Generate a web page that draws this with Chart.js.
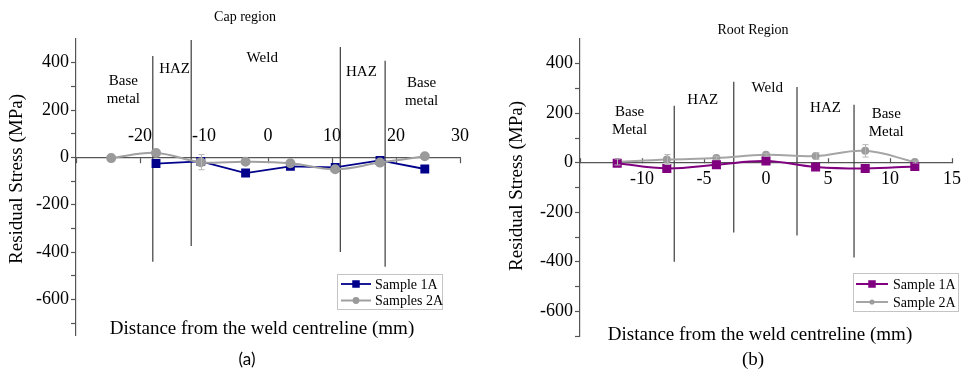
<!DOCTYPE html>
<html><head><meta charset="utf-8">
<script src="https://cdn.jsdelivr.net/npm/chart.js@4.4.0/dist/chart.umd.min.js"></script>
<style>
html,body{margin:0;padding:0;background:#fff;}
#wrap{position:relative;width:972px;height:370px;overflow:hidden;}
.box{position:absolute;top:0;width:486px;height:370px;}
canvas{display:block;}
</style></head><body>
<div id="wrap">
<div class="box" style="left:0"><canvas id="capChart" width="486" height="370"></canvas></div>
<div class="box" style="left:486px"><canvas id="rootChart" width="486" height="370"></canvas></div>
</div>
<script>
// ---------- Panel (a): Cap region ----------
const capDist1 = [-17.5, -10.5, -3.5, 3.5, 10.5, 17.5, 24.5];
const capStress1 = [-26, -17, -66, -38, -42, -13, -49];
const capDist2 = [-24.5, -17.5, -10.5, -3.5, 3.5, 10.5, 17.5, 24.5];
const capStress2 = [-3, 19, -20, -18, -25, -50, -22, 5];
const capErr2 = [0, 0, 32, 0, 0, 0, 0, 0];
const capBoundX = [-18, -12, 11.3, 18.3];
const capBoundTop = [428, 496, 466, 408];
const capBoundBottom = [-441, -374, -399, -462];
const capRegionText = [['Base', 'metal'], ['HAZ'], ['Weld'], ['HAZ'], ['Base', 'metal']];
const capRegionX = [-22.6, -14.6, -0.9, 14.6, 24];
const capRegionY = [286, 374, 420, 361, 277];
const capXTicks = [-30, -20, -10, 0, 10, 20, 30];
const capXLabels = [-20, -10, 0, 10, 20, 30];
const capYTicks = [-700, -600, -500, -400, -300, -200, -100, 0, 100, 200, 300, 400];
const capYLabels = [-600, -400, -200, 0, 200, 400];

// ---------- Panel (b): Root region ----------
const rootDist = [-12, -8, -4, 0, 4, 8, 12];
const rootStress1 = [-2, -23, -8, 7, -17, -23, -15];
const rootStress2 = [3, 13, 19, 32, 27, 48, 3];
const rootErr2 = [12, 20, 6, 6, 13, 25, 4];
const rootBoundX = [-7.4, -2.6, 2.5, 7.1];
const rootBoundTop = [230, 327, 306, 234];
const rootBoundBottom = [-400, -282, -294, -383];
const rootRegionText = [['Base', 'Metal'], ['HAZ'], ['Weld'], ['HAZ'], ['Base', 'Metal']];
const rootRegionX = [-11.0, -5.1, 0.1, 4.8, 9.7];
const rootRegionY = [169, 254, 302, 222, 161];
const rootXTicks = [-15, -10, -5, 0, 5, 10, 15];
const rootXLabels = [-10, -5, 0, 5, 10, 15];
const rootYTicks = [-700, -600, -500, -400, -300, -200, -100, 0, 100, 200, 300, 400];
const rootYLabels = [-600, -400, -200, 0, 200, 400];

const SERIF = 'Liberation Serif';
Chart.defaults.font.family = SERIF;

function boundaryDatasets(xs, tops, bottoms) {
  return xs.map((x, i) => ({
    data: [{x: x, y: tops[i]}, {x: x, y: bottoms[i]}],
    borderColor: '#3c3c3c', borderWidth: 1.2, pointRadius: 0, tension: 0, order: 5
  }));
}
function pts(xs, ys) { return xs.map((x, i) => ({x: x, y: ys[i]})); }

function annotPlugin(p) {
  return {
    id: 'annot',
    afterDatasetsDraw(chart) {
      const ctx = chart.ctx, xs = chart.scales.x, ys = chart.scales.y;
      ctx.save();
      ctx.strokeStyle = '#b5b5b5'; ctx.lineWidth = 1;
      p.errors.forEach(e => {
        e.x.forEach((xv, i) => {
          const d = e.err[i]; if (!d) return;
          const px = Math.round(xs.getPixelForValue(xv)) + 0.5;
          const a = ys.getPixelForValue(e.y[i] + d), b = ys.getPixelForValue(e.y[i] - d);
          ctx.beginPath();
          ctx.moveTo(px, a); ctx.lineTo(px, b);
          ctx.moveTo(px - 3, a); ctx.lineTo(px + 3, a);
          ctx.moveTo(px - 3, b); ctx.lineTo(px + 3, b);
          ctx.stroke();
        });
      });
      ctx.restore();
    },
    afterDraw(chart) {
      const ctx = chart.ctx, xs = chart.scales.x, ys = chart.scales.y;
      ctx.save();
      ctx.fillStyle = '#000'; ctx.textAlign = 'center'; ctx.textBaseline = 'middle';
      ctx.font = '15px "' + SERIF + '"';
      p.regionText.forEach((lines, i) => {
        const cx = xs.getPixelForValue(p.regionX[i]);
        const cy = ys.getPixelForValue(p.regionY[i]);
        lines.forEach((t, j) => ctx.fillText(t, cx, cy + (j - (lines.length - 1) / 2) * 18));
      });
      p.texts.forEach(t => {
        ctx.save();
        ctx.font = t.font; ctx.fillStyle = '#000';
        ctx.translate(t.x, t.y);
        if (t.rot) ctx.rotate(t.rot);
        ctx.fillText(t.text, 0, 0);
        ctx.restore();
      });
      const L = p.legend;
      const items = chart.data.datasets.filter(d => d.label);
      ctx.strokeStyle = '#c4c4c4'; ctx.lineWidth = 1;
      ctx.strokeRect(L.x + 0.5, L.y + 0.5, L.w, L.h);
      ctx.textAlign = 'left';
      ctx.font = '14px "' + SERIF + '"';
      items.forEach((d, i) => {
        const cy = L.y + L.first + i * L.rowH;
        ctx.strokeStyle = d.borderColor; ctx.lineWidth = d.borderWidth;
        ctx.beginPath(); ctx.moveTo(L.lx1, cy); ctx.lineTo(L.lx2, cy); ctx.stroke();
        const mx = (L.lx1 + L.lx2) / 2;
        ctx.fillStyle = d.pointBackgroundColor;
        if (d.pointStyle === 'rect') {
          const s = d.pointRadius * 0.75;
          ctx.fillRect(mx - s, cy - s, 2 * s, 2 * s);
        } else {
          ctx.beginPath(); ctx.arc(mx, cy, d.pointRadius * 0.85, 0, Math.PI * 2); ctx.fill();
        }
        ctx.fillStyle = '#000';
        ctx.fillText(d.label, L.tx, cy + 1);
      });
      ctx.restore();
    }
  };
}

function makeChart(id, p) {
  return new Chart(document.getElementById(id), {
    type: 'line',
    data: { datasets: p.datasets },
    options: {
      responsive: false, animation: false, devicePixelRatio: 1, events: [],
      layout: { padding: p.padding },
      plugins: { legend: { display: false }, tooltip: { enabled: false }, title: { display: false } },
      scales: {
        x: {
          type: 'linear', min: p.xMin, max: p.xMax, position: { y: 0 },
          afterBuildTicks: s => { s.ticks = p.xTicks.map(v => ({value: v})); },
          ticks: {
            callback: v => p.xLabels.includes(v) ? String(v) : '',
            font: { family: SERIF, size: 18 }, color: '#000',
            padding: p.xPad, maxRotation: 0, autoSkip: false
          },
          grid: { drawOnChartArea: false, drawTicks: true, tickLength: p.xTickLen, color: '#555', tickWidth: 1.2 },
          border: { display: true, color: '#555', width: 1.2 }
        },
        y: {
          type: 'linear', min: p.yMin, max: p.yMax, position: 'left',
          afterFit: s => { s.width = p.yWidth; },
          afterBuildTicks: s => { s.ticks = p.yTicks.map(v => ({value: v})); },
          ticks: {
            callback: v => p.yLabels.includes(v) ? String(v) : '',
            font: { family: SERIF, size: 18 }, color: '#000', padding: 2, autoSkip: false
          },
          grid: { drawOnChartArea: false, drawTicks: true, tickLength: 5, color: '#555', tickWidth: 1.2 },
          border: { display: true, color: '#555', width: 1.2 }
        }
      }
    },
    plugins: [annotPlugin(p)]
  });
}

const F = s => s + 'px "' + SERIF + '"';

makeChart('capChart', {
  datasets: [
    ...boundaryDatasets(capBoundX, capBoundTop, capBoundBottom),
    { label: 'Sample 1A', data: pts(capDist1, capStress1), borderColor: '#00008b', backgroundColor: '#00008b',
      pointBackgroundColor: '#00008b', pointBorderColor: '#00008b', borderWidth: 1.8, pointStyle: 'rect', pointRadius: 5, tension: 0, order: 2 },
    { label: 'Samples 2A', data: pts(capDist2, capStress2), borderColor: '#a0a0a0', backgroundColor: '#9a9a9a',
      pointBackgroundColor: '#9a9a9a', pointBorderColor: '#9a9a9a', borderWidth: 2, pointStyle: 'circle', pointRadius: 4, tension: 0.4, order: 1 }
  ],
  errors: [{ x: capDist2, y: capStress2, err: capErr2 }],
  regionText: capRegionText, regionX: capRegionX, regionY: capRegionY,
  padding: { top: 39, bottom: 35, right: 26, left: 0 },
  xMin: -30, xMax: 30, xTicks: capXTicks, xLabels: capXLabels, xPad: -37, xTickLen: 5,
  yMin: -750, yMax: 500, yTicks: capYTicks, yLabels: capYLabels, yWidth: 76,
  legend: { x: 337, y: 274, w: 105, h: 35, first: 10, rowH: 16.5, lx1: 341, lx2: 371, tx: 375 },
  texts: [
    { text: 'Cap region', x: 245, y: 17, font: F(14) },
    { text: 'Distance from the weld centreline (mm)', x: 262, y: 329, font: F(19) },
    { text: '(a)', x: 247, y: 360, font: '17px Lato, "Open Sans", sans-serif' },
    { text: 'Residual Stress (MPa)', x: 17, y: 179, rot: -Math.PI / 2, font: F(19) }
  ]
});

makeChart('rootChart', {
  datasets: [
    ...boundaryDatasets(rootBoundX, rootBoundTop, rootBoundBottom),
    { label: 'Sample 1A', data: pts(rootDist, rootStress1), borderColor: '#800080', backgroundColor: '#800080',
      pointBackgroundColor: '#800080', pointBorderColor: '#800080', borderWidth: 2, pointStyle: 'rect', pointRadius: 5, tension: 0.4, order: 1 },
    { label: 'Sample 2A', data: pts(rootDist, rootStress2), borderColor: '#a5a5a5', backgroundColor: '#9c9c9c',
      pointBackgroundColor: '#9c9c9c', pointBorderColor: '#9c9c9c', borderWidth: 2, pointStyle: 'circle', pointRadius: 3, tension: 0.4, order: 2 }
  ],
  errors: [{ x: rootDist, y: rootStress2, err: rootErr2 }],
  regionText: rootRegionText, regionX: rootRegionX, regionY: rootRegionY,
  padding: { top: 39, bottom: 34, right: 10, left: 0 },
  xMin: -15, xMax: 15, xTicks: rootXTicks, xLabels: rootXLabels, xPad: 11, xTickLen: -5,
  yMin: -700, yMax: 500, yTicks: rootYTicks, yLabels: rootYLabels, yWidth: 94,
  legend: { x: 367, y: 273, w: 105, h: 38, first: 11, rowH: 18, lx1: 370, lx2: 402, tx: 407 },
  texts: [
    { text: 'Root Region', x: 267, y: 30, font: F(14) },
    { text: 'Distance from the weld centreline (mm)', x: 274, y: 335, font: F(19) },
    { text: '(b)', x: 267, y: 360, font: F(19) },
    { text: 'Residual Stress (MPa)', x: 31, y: 186, rot: -Math.PI / 2, font: F(19) }
  ]
});
</script>
</body></html>
